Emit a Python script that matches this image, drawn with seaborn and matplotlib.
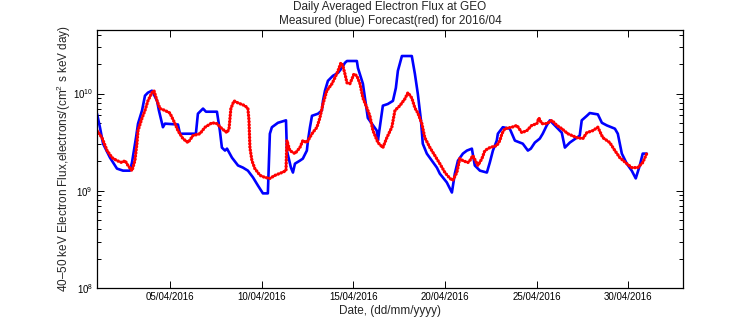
import numpy as np
import pandas as pd
import matplotlib
matplotlib.use("Agg")
import matplotlib.pyplot as plt
import matplotlib.dates as mdates
from matplotlib.ticker import LogLocator, NullFormatter, NullLocator
import seaborn as sns

# ---- data (day of April 2016, fractional; flux values) ----
measured_day = [1.00, 1.16, 1.33, 1.71, 2.09, 2.42, 2.80, 2.91, 3.13, 3.24, 3.46, 3.62, 3.78, 4.00,
                4.28, 4.38, 4.60, 4.71, 5.42, 5.53, 6.08, 6.40, 6.51, 6.79, 6.95, 7.55, 7.71, 7.82,
                7.99, 8.10, 8.37, 8.70, 8.97, 9.24, 9.52, 9.79, 10.06, 10.33, 10.44, 10.55, 10.88,
                11.32, 11.37, 11.59, 11.70, 11.81, 12.08, 12.24, 12.46, 12.52, 12.63, 12.74, 13.07,
                13.28, 13.34, 13.45, 13.61, 13.88, 14.16, 14.37, 14.54, 14.65, 15.19, 15.25, 15.52,
                15.63, 15.79, 16.01, 16.28, 16.34, 16.61, 16.88, 17.16, 17.32, 17.43, 17.65, 18.19,
                18.36, 18.52, 18.69, 18.79, 19.01, 19.29, 19.56, 19.72, 20.10, 20.38, 20.54, 20.71,
                20.98, 21.20, 21.47, 21.63, 21.91, 22.29, 22.45, 22.62, 22.83, 22.89, 23.16, 23.54,
                23.82, 24.09, 24.25, 24.53, 24.69, 24.91, 25.18, 25.34, 25.56, 25.73, 26.00, 26.38,
                26.55, 26.82, 27.36, 27.47, 27.75, 27.91, 28.35, 28.57, 28.84, 29.28, 29.44, 29.66,
                29.93, 30.20, 30.42, 30.64, 30.80, 31.02]
measured_flux = [6.2e9, 4.5e9, 3.05e9, 2.19e9, 1.69e9, 1.61e9, 1.61e9, 1.95e9, 3.52e9, 4.9e9, 6.7e9,
                 9.5e9, 1.02e10, 1.07e10, 8.4e9, 6.7e9, 4.5e9, 4.9e9, 4.8e9, 3.86e9, 3.86e9, 3.86e9,
                 6.2e9, 7.0e9, 6.5e9, 6.5e9, 4.15e9, 2.78e9, 2.59e9, 2.71e9, 2.19e9, 1.82e9, 1.73e9,
                 1.61e9, 1.37e9, 1.13e9, 9.4e8, 9.4e8, 3.86e9, 4.5e9, 5.0e9, 5.3e9, 2.59e9, 1.73e9,
                 1.54e9, 1.90e9, 2.04e9, 2.14e9, 2.59e9, 3.28e9, 4.5e9, 5.9e9, 6.2e9, 6.7e9, 8.4e9,
                 1.07e10, 1.35e10, 1.52e10, 1.63e10, 1.83e10, 2.07e10, 2.16e10, 2.16e10, 1.83e10,
                 1.26e10, 9.0e9, 5.6e9, 4.9e9, 4.15e9, 3.28e9, 7.5e9, 7.8e9, 8.4e9, 1.14e10, 1.71e10,
                 2.43e10, 2.43e10, 1.59e10, 9.9e9, 5.3e9, 3.05e9, 2.41e9, 2.04e9, 1.73e9, 1.50e9,
                 1.22e9, 9.6e8, 1.50e9, 2.04e9, 2.41e9, 2.59e9, 2.71e9, 1.82e9, 1.61e9, 1.54e9,
                 1.95e9, 2.59e9, 3.28e9, 3.86e9, 4.5e9, 4.35e9, 3.28e9, 3.13e9, 3.05e9, 2.59e9,
                 2.71e9, 3.13e9, 3.44e9, 3.86e9, 4.7e9, 5.3e9, 4.7e9, 3.96e9, 2.78e9, 3.13e9, 3.69e9,
                 5.3e9, 5.9e9, 6.3e9, 6.1e9, 5.0e9, 4.7e9, 4.35e9, 3.86e9, 2.41e9, 1.90e9, 1.61e9,
                 1.34e9, 1.82e9, 2.41e9, 2.41e9]

forecast_day = [1.00, 1.27, 1.55, 1.82, 2.09, 2.36, 2.53, 2.69, 2.91, 3.07, 3.18, 3.24, 3.46, 3.62,
                3.78, 4.00, 4.11, 4.28, 4.44, 4.71, 4.98, 5.26, 5.42, 5.69, 5.97, 6.24, 6.62, 6.90,
                7.28, 7.55, 7.82, 8.10, 8.21, 8.31, 8.48, 8.70, 9.08, 9.24, 9.30, 9.35, 9.46, 9.62,
                9.90, 10.17, 10.44, 10.72, 11.10, 11.32, 11.37, 11.53, 11.81, 12.08, 12.24, 12.46,
                12.74, 13.01, 13.17, 13.34, 13.55, 13.83, 13.99, 14.16, 14.32, 14.43, 14.54, 14.65,
                14.81, 14.92, 15.03, 15.19, 15.36, 15.52, 15.74, 15.90, 16.07, 16.34, 16.61, 16.83,
                17.10, 17.27, 17.54, 17.81, 17.98, 18.19, 18.36, 18.52, 18.74, 18.90, 19.18, 19.45,
                19.72, 20.00, 20.27, 20.43, 20.65, 20.81, 20.98, 21.25, 21.36, 21.52, 21.80, 22.02,
                22.18, 22.45, 22.83, 23.00, 23.11, 23.27, 23.65, 23.93, 24.20, 24.47, 24.74, 25.02,
                25.13, 25.29, 25.56, 25.84, 26.11, 26.38, 26.71, 27.20, 27.53, 27.75, 28.07, 28.35,
                28.62, 29.00, 29.28, 29.55, 29.93, 30.20, 30.53, 30.80, 31.02]
forecast_flux = [4.15e9, 3.52e9, 2.59e9, 2.19e9, 2.04e9, 1.95e9, 2.04e9, 1.82e9, 1.61e9, 2.04e9,
                 3.05e9, 4.15e9, 5.6e9, 6.7e9, 8.4e9, 1.02e10, 1.07e10, 8.4e9, 7.0e9, 6.7e9, 6.3e9,
                 4.9e9, 4.15e9, 3.44e9, 3.13e9, 3.69e9, 3.86e9, 4.5e9, 5.0e9, 4.9e9, 4.35e9, 3.96e9,
                 4.35e9, 7.0e9, 8.4e9, 8.0e9, 7.5e9, 7.0e9, 5.3e9, 2.78e9, 2.04e9, 1.69e9, 1.44e9,
                 1.37e9, 1.34e9, 1.44e9, 1.54e9, 1.61e9, 3.28e9, 2.59e9, 2.41e9, 2.78e9, 3.28e9,
                 3.13e9, 3.86e9, 4.5e9, 5.6e9, 7.8e9, 1.07e10, 1.26e10, 1.45e10, 1.71e10, 2.07e10,
                 1.92e10, 1.59e10, 1.29e10, 1.26e10, 1.41e10, 1.59e10, 1.52e10, 1.26e10, 9.0e9,
                 7.1e9, 5.9e9, 4.15e9, 3.13e9, 2.78e9, 3.52e9, 4.5e9, 6.7e9, 7.5e9, 8.8e9, 1.02e10,
                 9.0e9, 7.1e9, 6.3e9, 4.9e9, 3.52e9, 2.78e9, 2.30e9, 1.90e9, 1.54e9, 1.34e9, 1.28e9,
                 1.54e9, 2.14e9, 2.04e9, 1.95e9, 2.04e9, 2.30e9, 1.82e9, 2.14e9, 2.59e9, 2.78e9,
                 2.91e9, 3.28e9, 3.86e9, 4.35e9, 4.5e9, 4.7e9, 3.96e9, 4.15e9, 4.7e9, 4.9e9, 5.6e9,
                 4.9e9, 4.9e9, 5.3e9, 4.7e9, 4.35e9, 3.86e9, 3.52e9, 3.44e9, 3.96e9, 4.15e9, 4.5e9,
                 3.52e9, 3.13e9, 2.59e9, 2.19e9, 1.90e9, 1.73e9, 1.73e9, 1.95e9, 2.41e9]

title_lines = ["Daily Averaged Electron Flux at GEO", "Measured (blue) Forecast(red) for 2016/04"]
y_label = "40\u201350 keV Electron Flux,electrons/(cm$^2$ s keV day)"
x_label = "Date, (dd/mm/yyyy)"

# ---- build frames ----
base = pd.Timestamp("2016-04-01")
meas = pd.DataFrame({"date": base + pd.to_timedelta(np.array(measured_day) - 1, unit="D"),
                     "flux": measured_flux})
fc = pd.DataFrame({"date": base + pd.to_timedelta(np.array(forecast_day) - 1, unit="D"),
                   "flux": forecast_flux})

sns.set_style("ticks")
plt.rcParams["font.family"] = ["Liberation Sans", "DejaVu Sans"]
plt.rcParams["mathtext.fontset"] = "custom"
plt.rcParams["mathtext.rm"] = "Liberation Sans"
plt.rcParams["mathtext.it"] = "Liberation Sans:italic"
plt.rcParams["mathtext.bf"] = "Liberation Sans:bold"

fig = plt.figure(figsize=(7.56, 3.24), dpi=100)
ax = fig.add_axes([97 / 756, 1 - 288 / 324, (683 - 97) / 756, (288 - 30) / 324])

sns.lineplot(data=meas, x="date", y="flux", ax=ax, color="#0000ff", lw=1.9,
             estimator=None, sort=False)
sns.lineplot(data=fc, x="date", y="flux", ax=ax, color="#ff0000", lw=2.4,
             estimator=None, sort=False, linestyle=(0, (0.1, 0.85)),
             dash_capstyle="round")

ax.set_yscale("log")
ax.set_ylim(1e8, 4.5e10)
ax.set_xlim(pd.Timestamp("2016-04-01"), pd.Timestamp("2016-05-03"))
ax.yaxis.set_major_locator(LogLocator(base=10, numticks=10))
ax.yaxis.set_minor_locator(LogLocator(base=10, subs=np.arange(2, 10), numticks=20))
ax.yaxis.set_minor_formatter(NullFormatter())
ax.xaxis.set_major_locator(mdates.DayLocator(bymonthday=[5, 10, 15, 20, 25, 30]))
ax.xaxis.set_major_formatter(mdates.DateFormatter("%d/%m/%Y"))
ax.xaxis.set_minor_locator(NullLocator())

ax.tick_params(axis="both", which="both", direction="in", top=True, right=True,
               labelsize=7, colors="black", width=0.7)
ax.tick_params(axis="both", which="major", length=5, pad=3)
ax.tick_params(axis="y", which="minor", length=3)
for s in ax.spines.values():
    s.set_linewidth(0.9)
    s.set_color("black")

ax.set_xlabel(x_label, fontsize=8.5, labelpad=2)
ax.set_ylabel(y_label, fontsize=8.5, labelpad=0)
ax.set_title("\n".join(title_lines), fontsize=8.5, linespacing=1.25, pad=4)

fig.savefig("out.png", dpi=100)
